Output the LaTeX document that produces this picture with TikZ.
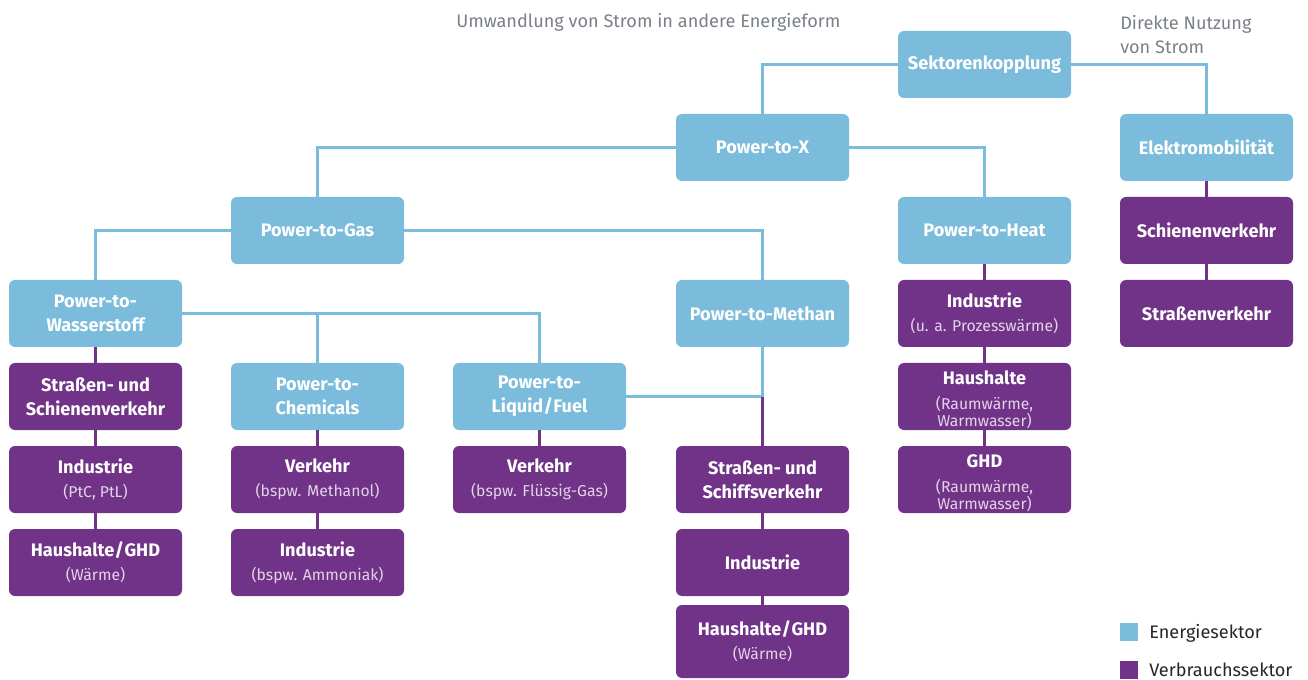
\documentclass[tikz,border=0pt]{standalone}
\usepackage{fontspec}
\setmainfont{Fira Sans}
\definecolor{eblue}{RGB}{123,188,220}
\definecolor{vpurple}{RGB}{113,51,135}
\definecolor{tgray}{RGB}{122,128,136}
\definecolor{subc}{RGB}{225,212,232}
\newcommand{\subl}[1]{{\fontsize{11.8}{14}\selectfont\mdseries\color{subc}#1}}
\newcommand{\slsh}{\kern0.3pt/\kern0.3pt}
\tikzset{
  box/.style={rounded corners=4.5pt, minimum width=129.75pt, minimum height=50.25pt, inner sep=0pt,
    align=center, text=white, font=\bfseries\fontsize{13.6}{18}\selectfont},
  ebox/.style={box, fill=eblue},
  vbox/.style={box, fill=vpurple},
  bl/.style={draw=eblue, line width=2.1pt},
  pl/.style={draw=vpurple, line width=2.1pt},
  note/.style={text=tgray, font=\fontsize{13.6}{18}\selectfont, align=left, inner sep=0pt},
  leg/.style={text=black!85, font=\fontsize{13.6}{14}\selectfont, inner sep=0pt, anchor=west}
}
\begin{document}
\begin{tikzpicture}[x=0.75pt,y=-0.75pt]
\useasboundingbox (0,0) rectangle (1308,680);
% energy sector nodes
\node[ebox] (sek) at (984.5,64.5) {Sektorenkopplung};
\node[ebox] (px) at (762.5,147.5) {Power-to-X};
\node[ebox] (em) at (1206.5,147.5) {Elektromobilität};
\node[ebox] (pg) at (317.5,230.5) {Power-to-Gas};
\node[ebox] (ph) at (984.5,230.5) {Power-to-Heat};
\node[ebox] (pw) at (95.5,313.5) {Power-to-\\Wasserstoff};
\node[ebox] (pm) at (762.5,313.5) {Power-to-Methan};
\node[ebox] (pc) at (317.5,396.5) {Power-to-\\Chemicals};
\node[ebox] (pf) at (539.5,396.5) {Power-to-\\Liquid\slsh Fuel};
% consumption sector nodes
\node[vbox] (sv) at (1206.5,230.5) {Schienenverkehr};
\node[vbox] (stv) at (1206.5,313.5) {Straßenverkehr};
\node[vbox] (hi) at (984.5,313.5) {Industrie\\\subl{(u. a. Prozesswärme)}};
\node[vbox] (hh) at (984.5,396.5) {\rule{0pt}{15pt}Haushalte\\[1.25pt]\subl{(Raumwärme,}\\[-5.25pt]\subl{Warmwasser)}};
\node[vbox] (hg) at (984.5,479.5) {\rule{0pt}{15pt}GHD\\[1.25pt]\subl{(Raumwärme,}\\[-5.25pt]\subl{Warmwasser)}};
\node[vbox] (w1) at (95.5,396.5) {Straßen- und\\Schienenverkehr};
\node[vbox] (w2) at (95.5,479.5) {Industrie\\\subl{(PtC, PtL)}};
\node[vbox] (w3) at (95.5,562.5) {Haushalte\slsh GHD\\\subl{(Wärme)}};
\node[vbox] (c1) at (317.5,479.5) {Verkehr\\\subl{(bspw. Methanol)}};
\node[vbox] (c2) at (317.5,562.5) {Industrie\\\subl{(bspw. Ammoniak)}};
\node[vbox] (f1) at (539.5,479.5) {Verkehr\\\subl{(bspw. Flüssig-Gas)}};
\node[vbox] (m1) at (762.5,479.5) {Straßen- und\\Schiffsverkehr};
\node[vbox] (m2) at (762.5,562.5) {Industrie};
\node[vbox, minimum height=54.75pt] (m3) at (762.5,641.5) {Haushalte\slsh GHD\\\subl{(Wärme)}};
% notes
\node[note, anchor=west] (n1) at (456,22) {Umwandlung von Strom in andere Energieform};
\node[note, anchor=north west] (n2) at (1120,15) {Direkte Nutzung\\von Strom};
% legend
\node[fill=eblue, minimum size=13.5pt, inner sep=0pt] (lb) at (1129,632) {};
\node[leg] (lbt) at (1149,633) {Energiesektor};
\node[fill=vpurple, minimum size=13.5pt, inner sep=0pt] (lp) at (1129,670) {};
\node[leg] (lpt) at (1149,670) {Verbrauchssektor};
% blue connectors
\draw[bl] (sek.west) -| (px.north);
\draw[bl] (sek.east) -| (em.north);
\draw[bl] (px.west) -| (pg.north);
\draw[bl] (px.east) -| (ph.north);
\draw[bl] (pg.west) -| (pw.north);
\draw[bl] (pg.east) -| (pm.north);
\draw[bl] (pw.east) -| (pf.north);
\draw[bl] (pw.east -| pc.north) -- (pc.north);
\coordinate (j) at (pm.south |- pf.east);
\draw[bl] (pm.south) -- (j) -- (pf.east);
% purple connectors
\draw[pl] (j) -- (m1.north);
\draw[pl] (m1.south) -- (m2.north);
\draw[pl] (m2.south) -- (m3.north);
\draw[pl] (em.south) -- (sv.north);
\draw[pl] (sv.south) -- (stv.north);
\draw[pl] (ph.south) -- (hi.north);
\draw[pl] (hi.south) -- (hh.north);
\draw[pl] (hh.south) -- (hg.north);
\draw[pl] (pw.south) -- (w1.north);
\draw[pl] (w1.south) -- (w2.north);
\draw[pl] (w2.south) -- (w3.north);
\draw[pl] (pc.south) -- (c1.north);
\draw[pl] (c1.south) -- (c2.north);
\draw[pl] (pf.south) -- (f1.north);
\end{tikzpicture}
\end{document}
